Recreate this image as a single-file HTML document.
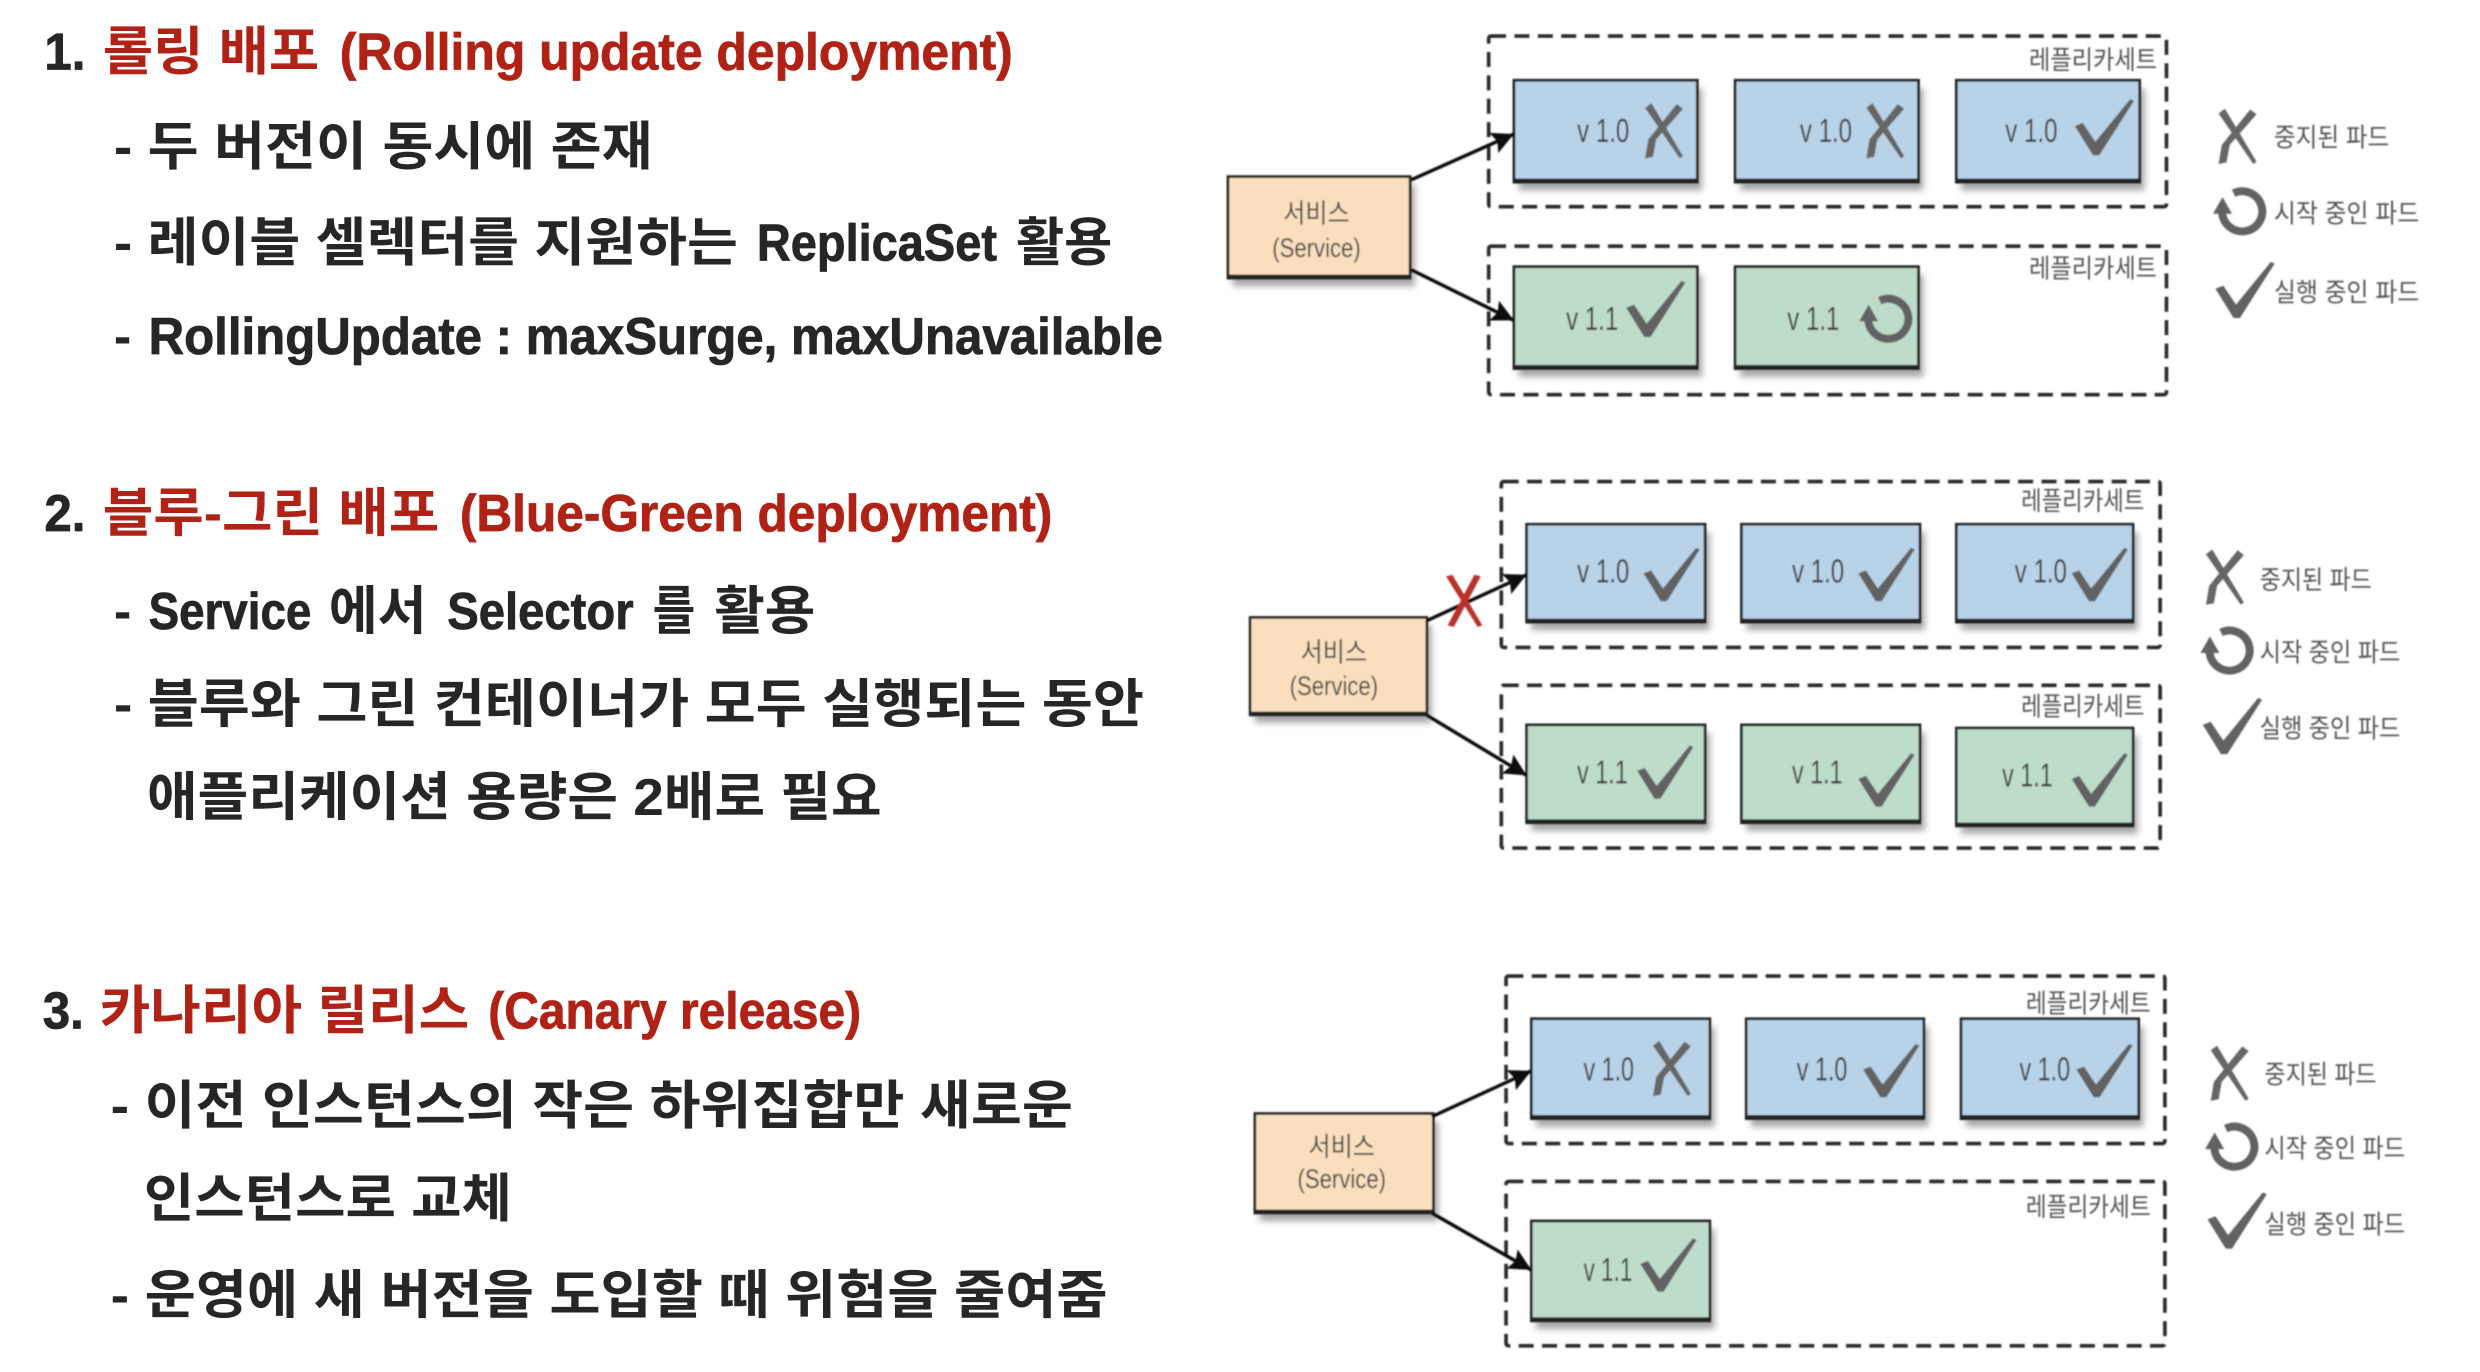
<!DOCTYPE html>
<html lang="ko">
<head>
<meta charset="utf-8">
<title>배포 전략</title>
<style>
html,body{margin:0;padding:0;background:#fff;width:2480px;height:1372px;overflow:hidden}
svg{display:block}
.t{font-family:"Liberation Sans","Noto Sans CJK KR",sans-serif;font-weight:700;font-size:33px;fill:#262626}
.r{fill:#b02318}
.b{stroke:#262626;stroke-width:.5}
.br{stroke:#b02318;stroke-width:.5}
.v{font-family:"Liberation Sans","Noto Sans CJK KR",sans-serif;font-size:21px;fill:#3a3a3a}
.l{font-family:"Liberation Sans","Noto Sans CJK KR",sans-serif;font-size:16.5px;fill:#555}
.s{font-family:"Liberation Sans","Noto Sans CJK KR",sans-serif;font-size:17px;fill:#444;text-anchor:middle}
.d{fill:none;stroke:#2a2a2a;stroke-width:2.3;stroke-dasharray:9.5 5.3}
.a{stroke:#111;stroke-width:2.2;fill:none;marker-end:url(#ah)}
</style>
</head>
<body>
<svg xmlns="http://www.w3.org/2000/svg" width="2480" height="1372" viewBox="0 0 1569.6 868.4">
<defs>
<filter id="bl" x="-50%" y="-50%" width="200%" height="200%"><feGaussianBlur stdDeviation="2"/></filter>
<filter id="soft" x="-2%" y="-2%" width="104%" height="104%"><feGaussianBlur stdDeviation="0.5"/></filter>
<filter id="soft2" x="-2%" y="-2%" width="104%" height="104%"><feGaussianBlur stdDeviation="0.25"/></filter>
<marker id="ah" markerUnits="userSpaceOnUse" markerWidth="16" markerHeight="14" refX="14" refY="7" orient="auto"><path d="M0 0L14 7L0 14L2.5 7z" fill="#111"/></marker>
<g id="pb">
<rect x="3" y="5" width="113" height="62" fill="#777" opacity=".65" filter="url(#bl)"/>
<rect width="113" height="62" fill="#b8d2e8" stroke="#222" stroke-width="1.7"/>
<rect y="59.8" width="113" height="2.2" fill="#222"/>
</g>
<g id="pg">
<rect x="3" y="5" width="113" height="62" fill="#777" opacity=".65" filter="url(#bl)"/>
<rect width="113" height="62" fill="#bddcc9" stroke="#222" stroke-width="1.7"/>
<rect y="59.8" width="113" height="2.2" fill="#222"/>
</g>
<g id="ps">
<rect x="3" y="5" width="113" height="63" fill="#777" opacity=".65" filter="url(#bl)"/>
<rect width="113" height="63" fill="#f9dfbe" stroke="#222" stroke-width="1.7"/>
<rect y="60.8" width="113" height="2.2" fill="#222"/>
</g>
<path id="c" d="M0 17L5 15L13 27L35 0L37.5 1L15.5 35.5L11.5 35.5z" fill="#626262"/>
<g id="x" fill="#666"><path d="M0 3L4 0L24 33.5L22 35z"/><path d="M20 0.5L24 3.5L7 23L5 34L0 35L2 23z"/></g>
<g id="o"><path d="M-5.5 -11.5A12.7 12.7 0 1 1 -12.7 1" fill="none" stroke="#626262" stroke-width="5"/><path d="M-18.5 1.5L-6.5 1.5L-12.5 -9z" fill="#626262"/></g>
</defs>
<rect width="1569.6" height="868.4" fill="#fff"/>

<!-- Left text -->
<g filter="url(#soft2)">
<text class="t b" x="28" y="44" textLength="26" lengthAdjust="spacingAndGlyphs">1.</text>
<text class="t r" x="65" y="44" textLength="137" lengthAdjust="spacingAndGlyphs">롤링 배포</text>
<text class="t r br" x="215" y="44" textLength="426" lengthAdjust="spacingAndGlyphs">(Rolling update deployment)</text>
<text class="t" x="72" y="104" textLength="341" lengthAdjust="spacingAndGlyphs">- 두 버전이 동시에 존재</text>
<text class="t" x="72" y="165" textLength="395" lengthAdjust="spacingAndGlyphs">- 레이블 셀렉터를 지원하는</text>
<text class="t b" x="479" y="165" textLength="152" lengthAdjust="spacingAndGlyphs">ReplicaSet</text>
<text class="t" x="643" y="165" textLength="61" lengthAdjust="spacingAndGlyphs">활용</text>
<text class="t" x="72" y="224">-</text>
<text class="t b" x="94" y="224" textLength="642" lengthAdjust="spacingAndGlyphs">RollingUpdate : maxSurge, maxUnavailable</text>

<text class="t b" x="28" y="336" textLength="26" lengthAdjust="spacingAndGlyphs">2.</text>
<text class="t r" x="65" y="336" textLength="213" lengthAdjust="spacingAndGlyphs">블루-그린 배포</text>
<text class="t r br" x="291" y="336" textLength="375" lengthAdjust="spacingAndGlyphs">(Blue-Green deployment)</text>
<text class="t" x="72" y="398">-</text>
<text class="t b" x="94" y="398" textLength="103" lengthAdjust="spacingAndGlyphs">Service</text>
<text class="t" x="208" y="398" textLength="62" lengthAdjust="spacingAndGlyphs">에서</text>
<text class="t b" x="283" y="398" textLength="118" lengthAdjust="spacingAndGlyphs">Selector</text>
<text class="t" x="413" y="398" textLength="27" lengthAdjust="spacingAndGlyphs">를</text>
<text class="t" x="452" y="398" textLength="64" lengthAdjust="spacingAndGlyphs">활용</text>
<text class="t" x="72" y="457" textLength="652" lengthAdjust="spacingAndGlyphs">- 블루와 그린 컨테이너가 모두 실행되는 동안</text>
<text class="t" x="93" y="516" textLength="465" lengthAdjust="spacingAndGlyphs">애플리케이션 용량은 2배로 필요</text>

<text class="t b" x="27" y="651" textLength="26" lengthAdjust="spacingAndGlyphs">3.</text>
<text class="t r" x="63" y="651" textLength="234" lengthAdjust="spacingAndGlyphs">카나리아 릴리스</text>
<text class="t r br" x="309" y="651" textLength="236" lengthAdjust="spacingAndGlyphs">(Canary release)</text>
<text class="t" x="70" y="711" textLength="609" lengthAdjust="spacingAndGlyphs">- 이전 인스턴스의 작은 하위집합만 새로운</text>
<text class="t" x="91" y="770" textLength="233" lengthAdjust="spacingAndGlyphs">인스턴스로 교체</text>
<text class="t" x="70" y="831" textLength="631" lengthAdjust="spacingAndGlyphs">- 운영에 새 버전을 도입할 때 위험을 줄여줌</text>
</g>

<g filter="url(#soft)" transform="translate(1.2,0.8)">
<!-- Panel 1 -->
<rect class="d" x="941" y="22" width="429" height="108" rx="1.5"/>
<rect class="d" x="941" y="155" width="429" height="94" rx="1.5"/>
<use href="#ps" transform="translate(776,111) scale(1.02,1.02)"/>
<use href="#pb" transform="translate(957,50) scale(1.027,1.04)"/>
<use href="#pb" transform="translate(1097,50) scale(1.027,1.04)"/>
<use href="#pb" transform="translate(1237,50) scale(1.027,1.04)"/>
<use href="#pg" transform="translate(957,168) scale(1.027,1.04)"/>
<use href="#pg" transform="translate(1097,168) scale(1.027,1.04)"/>
<line class="a" x1="892" y1="113" x2="957" y2="84"/>
<line class="a" x1="892" y1="170" x2="957" y2="202"/>
<text class="l" x="1283" y="43" textLength="81" lengthAdjust="spacingAndGlyphs">레플리카세트</text>
<text class="l" x="1283" y="175" textLength="81" lengthAdjust="spacingAndGlyphs">레플리카세트</text>
<text class="s" x="832" y="140" textLength="42" lengthAdjust="spacingAndGlyphs">서비스</text>
<text class="s" x="832" y="162" textLength="56" lengthAdjust="spacingAndGlyphs">(Service)</text>
<text class="v" x="997" y="89" textLength="33" lengthAdjust="spacingAndGlyphs">v 1.0</text>
<use href="#x" transform="translate(1040,64.5)"/>
<text class="v" x="1138" y="89" textLength="33" lengthAdjust="spacingAndGlyphs">v 1.0</text>
<use href="#x" transform="translate(1180,64.5)"/>
<text class="v" x="1268" y="89" textLength="33" lengthAdjust="spacingAndGlyphs">v 1.0</text>
<use href="#c" transform="translate(1312,62)"/>
<text class="v" x="990" y="208" textLength="33" lengthAdjust="spacingAndGlyphs">v 1.1</text>
<use href="#c" transform="translate(1028,177)"/>
<text class="v" x="1130" y="208" textLength="33" lengthAdjust="spacingAndGlyphs">v 1.1</text>
<use href="#o" transform="translate(1194,201)"/>
<use href="#x" transform="translate(1403,68)"/>
<text class="l" x="1438" y="92" textLength="73" lengthAdjust="spacingAndGlyphs">중지된 파드</text>
<use href="#o" transform="translate(1418,133)"/>
<text class="l" x="1438" y="140" textLength="92" lengthAdjust="spacingAndGlyphs">시작 중인 파드</text>
<use href="#c" transform="translate(1401,165)"/>
<text class="l" x="1438" y="190" textLength="92" lengthAdjust="spacingAndGlyphs">실행 중인 파드</text>

<!-- Panel 2 -->
<rect class="d" x="949" y="304" width="417" height="105" rx="1.5"/>
<rect class="d" x="949" y="433" width="417" height="103" rx="1.5"/>
<use href="#ps" transform="translate(790,390) scale(.99,.98)"/>
<use href="#pb" transform="translate(965,331)"/>
<use href="#pb" transform="translate(1101,331)"/>
<use href="#pb" transform="translate(1237,331) scale(.99,1)"/>
<use href="#pg" transform="translate(965,458)"/>
<use href="#pg" transform="translate(1101,458)"/>
<use href="#pg" transform="translate(1237,460) scale(.99,1)"/>
<line class="a" x1="902" y1="392" x2="965" y2="363"/>
<line class="a" x1="902" y1="452" x2="965" y2="490"/>
<g fill="#b8302a"><path d="M914 364L918 363L937 395L934 396z"/><path d="M932 363L936 364L919 396L915 395z"/></g>
<text class="l" x="1278" y="322" textLength="78" lengthAdjust="spacingAndGlyphs">레플리카세트</text>
<text class="l" x="1278" y="452" textLength="78" lengthAdjust="spacingAndGlyphs">레플리카세트</text>
<text class="s" x="843" y="418" textLength="42" lengthAdjust="spacingAndGlyphs">서비스</text>
<text class="s" x="843" y="439" textLength="56" lengthAdjust="spacingAndGlyphs">(Service)</text>
<text class="v" x="997" y="368" textLength="33" lengthAdjust="spacingAndGlyphs">v 1.0</text>
<use href="#c" transform="translate(1039,346) scale(.95,.95)"/>
<text class="v" x="1133" y="368" textLength="33" lengthAdjust="spacingAndGlyphs">v 1.0</text>
<use href="#c" transform="translate(1175,346) scale(.95,.95)"/>
<text class="v" x="1274" y="368" textLength="33" lengthAdjust="spacingAndGlyphs">v 1.0</text>
<use href="#c" transform="translate(1310,346) scale(.95,.95)"/>
<text class="v" x="997" y="495" textLength="32" lengthAdjust="spacingAndGlyphs">v 1.1</text>
<use href="#c" transform="translate(1035,471) scale(.95,.95)"/>
<text class="v" x="1133" y="495" textLength="32" lengthAdjust="spacingAndGlyphs">v 1.1</text>
<use href="#c" transform="translate(1175,476) scale(.95,.95)"/>
<text class="v" x="1266" y="497" textLength="32" lengthAdjust="spacingAndGlyphs">v 1.1</text>
<use href="#c" transform="translate(1310,476) scale(.95,.95)"/>
<use href="#x" transform="translate(1395,347)"/>
<text class="l" x="1429" y="372" textLength="71" lengthAdjust="spacingAndGlyphs">중지된 파드</text>
<use href="#o" transform="translate(1410,411)"/>
<text class="l" x="1429" y="418" textLength="89" lengthAdjust="spacingAndGlyphs">시작 중인 파드</text>
<use href="#c" transform="translate(1393,441)"/>
<text class="l" x="1429" y="466" textLength="89" lengthAdjust="spacingAndGlyphs">실행 중인 파드</text>

<!-- Panel 3 -->
<rect class="d" x="952" y="617" width="417" height="106" rx="1.5"/>
<rect class="d" x="952" y="747" width="417" height="104" rx="1.5"/>
<use href="#ps" transform="translate(793,704)"/>
<use href="#pb" transform="translate(968,644) scale(1,1.02)"/>
<use href="#pb" transform="translate(1104,644) scale(.995,1.02)"/>
<use href="#pb" transform="translate(1240,644) scale(.995,1.02)"/>
<use href="#pg" transform="translate(968,772) scale(1,1.02)"/>
<line class="a" x1="905" y1="706" x2="968" y2="677"/>
<line class="a" x1="905" y1="767" x2="968" y2="803"/>
<text class="l" x="1281" y="640" textLength="79" lengthAdjust="spacingAndGlyphs">레플리카세트</text>
<text class="l" x="1281" y="769" textLength="79" lengthAdjust="spacingAndGlyphs">레플리카세트</text>
<text class="s" x="848" y="731" textLength="42" lengthAdjust="spacingAndGlyphs">서비스</text>
<text class="s" x="848" y="751" textLength="56" lengthAdjust="spacingAndGlyphs">(Service)</text>
<text class="v" x="1001" y="683" textLength="32" lengthAdjust="spacingAndGlyphs">v 1.0</text>
<use href="#x" transform="translate(1045,658)"/>
<text class="v" x="1136" y="683" textLength="32" lengthAdjust="spacingAndGlyphs">v 1.0</text>
<use href="#c" transform="translate(1178,660) scale(.95,.95)"/>
<text class="v" x="1277" y="683" textLength="32" lengthAdjust="spacingAndGlyphs">v 1.0</text>
<use href="#c" transform="translate(1313,660) scale(.95,.95)"/>
<text class="v" x="1001" y="810" textLength="31" lengthAdjust="spacingAndGlyphs">v 1.1</text>
<use href="#c" transform="translate(1037,783) scale(.95,.95)"/>
<use href="#x" transform="translate(1398,661)"/>
<text class="l" x="1432" y="685" textLength="71" lengthAdjust="spacingAndGlyphs">중지된 파드</text>
<use href="#o" transform="translate(1413,725)"/>
<text class="l" x="1432" y="732" textLength="89" lengthAdjust="spacingAndGlyphs">시작 중인 파드</text>
<use href="#c" transform="translate(1396,754)"/>
<text class="l" x="1432" y="780" textLength="89" lengthAdjust="spacingAndGlyphs">실행 중인 파드</text>
</g>
</svg>
</body>
</html>
